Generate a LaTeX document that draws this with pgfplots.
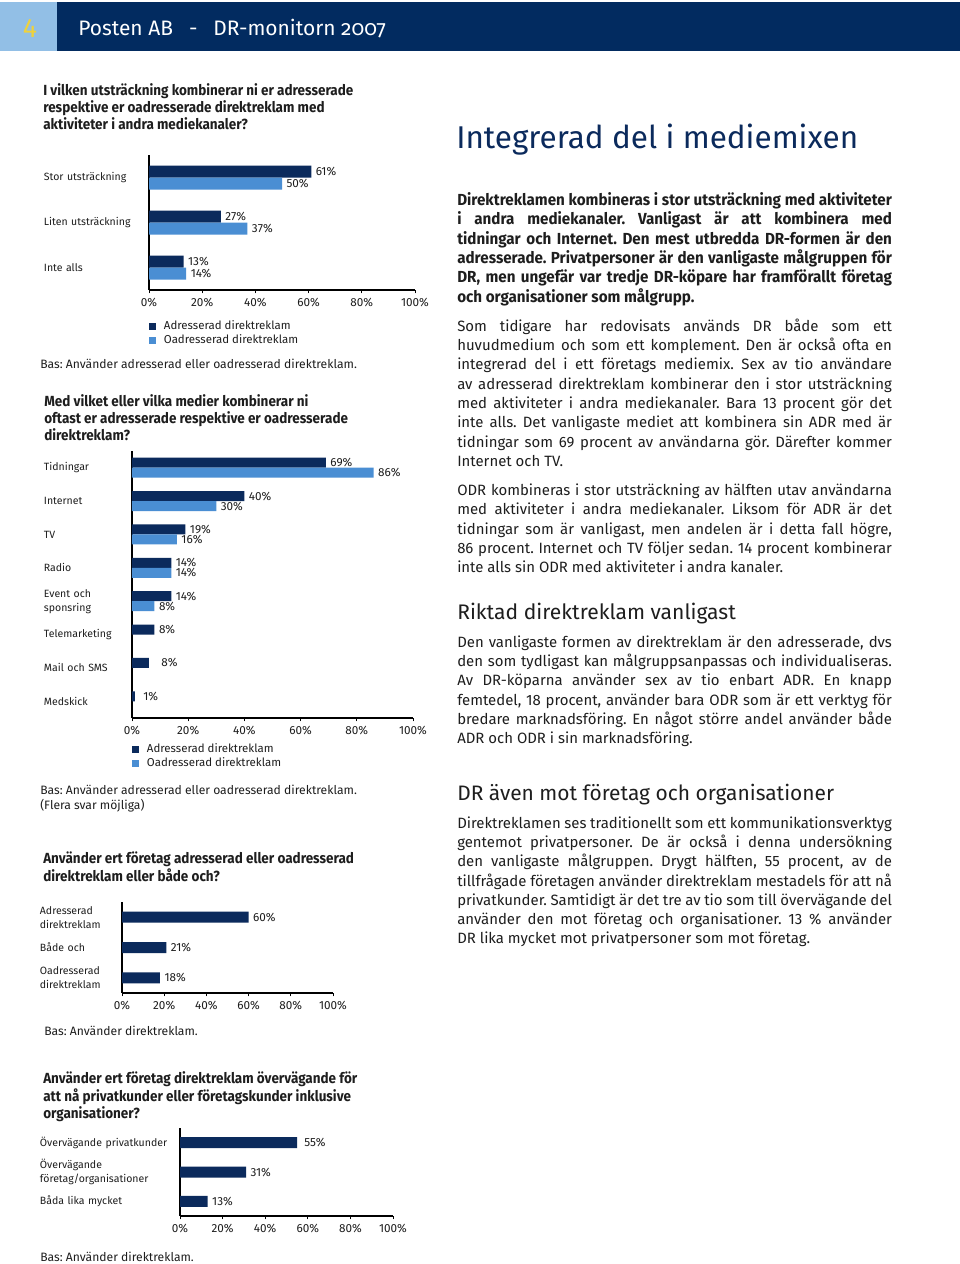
\documentclass[border=0pt]{standalone}
\usepackage{fontspec}
\setmainfont{Fira Sans}
\newfontfamily\cond[FakeStretch=0.92]{Fira Sans}
\newfontfamily\bcond[FakeStretch=0.95]{Fira Sans}
\newfontfamily\hdr[Numbers=OldStyle]{Fira Sans}
\usepackage{pgfplots}
\pgfplotsset{compat=1.18}
\frenchspacing
\definecolor{navy}{HTML}{0B2A5C}
\definecolor{lightbar}{HTML}{4A8ED3}
\definecolor{hdrnavy}{HTML}{022B60}
\definecolor{hdrlight}{HTML}{92BFE6}
\definecolor{yel}{HTML}{EFD23C}
\definecolor{txt}{HTML}{1E1E1E}
\newcommand{\sm}{\fontsize{7.9}{10.5}\selectfont}
\newcommand{\tk}{\fontsize{8.8}{10.5}\selectfont}
\newcommand{\jl}[1]{\makebox[326pt][s]{#1}}
\pgfplotsset{
  dr/.style={
    scale only axis, xbar, clip=false,
    xmin=0, xmax=100,
    axis lines*=left,
    axis line style={black, line width=1pt, -},
    xtick={0,20,...,100},
    xticklabel={\pgfmathprintnumber{\tick}\%},
    /pgf/number format/assume math mode=true,
    tick label style={font=\sm, text=txt},
    xticklabel style={font=\tk},
    major tick length=2.5pt,
    tick align=outside,
    xtick style={black, line width=0.7pt},
    ytick style={draw=none},
    extra y tick labels={},
    extra y tick style={tick style={draw=black, line width=0.8pt}},
    nodes near coords, point meta=explicit symbolic,
    every node near coord/.append style={font=\tk, text=txt, anchor=west, inner sep=3.2pt},
    legend style={draw=none, fill=none, font=\fontsize{8.6}{10}\selectfont, text=txt, cells={anchor=west}, row sep=0pt, inner sep=0pt,
      nodes={inner sep=1.1pt}, /tikz/every odd column/.append style={column sep=4.5pt}},
    legend image code/.code={\fill[##1, draw=none] (0pt,-2.7pt) rectangle (5.4pt,2.7pt);},
  }
}
\begin{document}
\begin{tikzpicture}[x=0.75pt, y=-0.75pt]
\path[use as bounding box, fill=white] (0,0) rectangle (960,1264);
% header
\fill[hdrlight] (0,2) rectangle (57,51);
\fill[hdrnavy] (57,2) rectangle (960,51);
\node[anchor=base, text=yel, font=\fontsize{20}{22}\selectfont, inner sep=0] at (30,37) {4};
\node[anchor=base west, text=white, font=\hdr\fontsize{15.7}{18}\selectfont, inner sep=0] at (78,35) {Posten AB\enspace\ -\ \enspace DR-monitorn 2007};

% left column questions
\begin{scope}[every node/.style={anchor=base west, inner sep=0, text=txt, font=\cond\bfseries\fontsize{11}{13}\selectfont}]
\node at (43,95) {I vilken utsträckning kombinerar ni er adresserade};
\node at (43,112) {respektive er oadresserade direktreklam med};
\node at (43,129) {aktiviteter i andra mediekanaler?};
\node at (44,406) {Med vilket eller vilka medier kombinerar ni};
\node at (44,423) {oftast er adresserade respektive er oadresserade};
\node at (44,440) {direktreklam?};
\node at (43,863) {Använder ert företag adresserad eller oadresserad};
\node at (43,881) {direktreklam eller både och?};
\node at (43,1083) {Använder ert företag direktreklam övervägande för};
\node at (43,1101) {att nå privatkunder eller företagskunder inklusive};
\node at (43,1118) {organisationer?};
\end{scope}
\begin{scope}[every node/.style={anchor=base west, inner sep=0, text=txt, font=\fontsize{9.1}{11}\selectfont}]
\node at (40,368) {Bas: Använder adresserad eller oadresserad direktreklam.};
\node at (40,794) {Bas: Använder adresserad eller oadresserad direktreklam.};
\node at (40,809) {(Flera svar möjliga)};
\node at (44,1035) {Bas: Använder direktreklam.};
\node at (40,1261) {Bas: Använder direktreklam.};
\end{scope}

% Chart 1
\begin{axis}[dr, at={(111.75pt,-217.5pt)}, anchor=south west,
  width=199.5pt, height=101.25pt,
  ymin=-0.5, ymax=2.5,
  ytick={0,1,2}, yticklabels={Inte alls,Liten utsträckning,Stor utsträckning},
  yticklabel style={anchor=west, xshift=-76.5pt, text width=76pt, align=left, inner sep=0pt},
  extra y ticks={-0.5,0.5,1.5,2.5},
  bar width=9pt,
  legend style={at={(0,-0.215)}, anchor=north west},
]
\addplot[fill=navy, draw=none, bar shift=4.5pt] coordinates {(61,2) [61\%] (27,1) [27\%] (13,0) [13\%]};
\addplot[fill=lightbar, draw=none, bar shift=-4.5pt] coordinates {(50,2) [50\%] (37,1) [37\%] (14,0) [14\%]};
\legend{Adresserad direktreklam, Oadresserad direktreklam}
\end{axis}

% Chart 2
\begin{axis}[dr, at={(99pt,-538.5pt)}, anchor=south west,
  width=210.75pt, height=200.25pt,
  ymin=-0.5, ymax=7.5,
  ytick={0,...,7}, yticklabels={Medskick,Mail och SMS,Telemarketing,{Event och\\sponsring},Radio,TV,Internet,Tidningar},
  yticklabel style={anchor=west, xshift=-63.75pt, text width=63pt, align=left, inner sep=0pt},
  extra y ticks={-0.5,0.5,...,7.5},
  bar width=7.5pt,
  legend style={at={(0,-0.09)}, anchor=north west},
]
\addplot[fill=navy, draw=none, bar shift=3.75pt] coordinates {(69,7) [69\%] (40,6) [40\%] (19,5) [19\%] (14,4) [14\%] (14,3) [14\%] (8,2) [8\%] (6,1) [\hspace{6pt}8\%] (1,0) [\hspace{3pt}1\%]};
\addplot[fill=lightbar, draw=none, bar shift=-3.75pt] coordinates {(86,7) [86\%] (30,6) [30\%] (16,5) [16\%] (14,4) [14\%] (8,3) [8\%]};
\legend{Adresserad direktreklam, Oadresserad direktreklam}
\end{axis}

% Chart 3
\begin{axis}[dr, at={(91.5pt,-744.75pt)}, anchor=south west,
  width=158.25pt, height=68.25pt,
  ymin=-0.5, ymax=2.5,
  ytick={0,1,2}, yticklabels={{Oadresserad\\direktreklam},Både och,{Adresserad\\direktreklam}},
  yticklabel style={anchor=west, xshift=-59.25pt, text width=59pt, align=left, inner sep=0pt},
  extra y ticks={-0.5,0.5,1.5,2.5},
  bar width=8.25pt,
]
\addplot[fill=navy, draw=none, bar shift=0pt] coordinates {(60,2) [60\%] (21,1) [21\%] (18,0) [18\%]};
\end{axis}

% Chart 4
\begin{axis}[dr, at={(135pt,-912pt)}, anchor=south west,
  width=159.75pt, height=66pt,
  ymin=-0.5, ymax=2.5,
  ytick={0,1,2}, yticklabels={Båda lika mycket,{Övervägande\\företag/organisationer},Övervägande privatkunder},
  yticklabel style={anchor=west, xshift=-102.75pt, text width=102pt, align=left, inner sep=0pt},
  extra y ticks={-0.5,0.5,1.5,2.5},
  bar width=8.25pt,
]
\addplot[fill=navy, draw=none, bar shift=0pt] coordinates {(55,2) [\hspace{2pt}55\%] (31,1) [31\%] (13,0) [13\%]};
\end{axis}

% right column
\node[anchor=base west, inner sep=0, text=navy, font=\fontsize{23.6}{28}\selectfont] at (456,148) {Integrerad del i mediemixen};
\begin{scope}[every node/.style={anchor=base west, inner sep=0, text=txt}]
\begin{scope}[every node/.append style={font=\bcond\bfseries\fontsize{12}{14}\selectfont}]
\node at (457,205) {\jl{Direktreklamen kombineras i stor utsträckning med aktiviteter}};
\node at (457,224) {\jl{i andra mediekanaler. Vanligast är att kombinera med}};
\node at (457,244) {\jl{tidningar och Internet. Den mest utbredda DR-formen är den}};
\node at (457,263) {\jl{adresserade. Privatpersoner är den vanligaste målgruppen för}};
\node at (457,282) {\jl{DR, men ungefär var tredje DR-köpare har framförallt företag}};
\node at (457,302) {och organisationer som målgrupp.};
\end{scope}
\begin{scope}[every node/.append style={font=\fontsize{11.2}{14}\selectfont}]
\node at (457,331) {\jl{Som tidigare har redovisats används DR både som ett}};
\node at (457,350) {\jl{huvudmedium och som ett komplement. Den är också ofta en}};
\node at (457,369) {\jl{integrerad del i ett företags mediemix. Sex av tio användare}};
\node at (457,389) {\jl{av adresserad direktreklam kombinerar den i stor utsträckning}};
\node at (457,408) {\jl{med aktiviteter i andra mediekanaler. Bara 13 procent gör det}};
\node at (457,427) {\jl{inte alls. Det vanligaste mediet att kombinera sin ADR med är}};
\node at (457,447) {\jl{tidningar som 69 procent av användarna gör. Därefter kommer}};
\node at (457,466) {Internet och TV.};
\node at (457,495) {\jl{ODR kombineras i stor utsträckning av hälften utav användarna}};
\node at (457,514) {\jl{med aktiviteter i andra mediekanaler. Liksom för ADR är det}};
\node at (457,534) {\jl{tidningar som är vanligast, men andelen är i detta fall högre,}};
\node at (457,553) {\jl{86 procent. Internet och TV följer sedan. 14 procent kombinerar}};
\node at (457,572) {inte alls sin ODR med aktiviteter i andra kanaler.};
\node at (457,647) {\jl{Den vanligaste formen av direktreklam är den adresserade, dvs}};
\node at (457,666) {\jl{den som tydligast kan målgruppsanpassas och individualiseras.}};
\node at (457,685) {\jl{Av DR-köparna använder sex av tio enbart ADR. En knapp}};
\node at (457,705) {\jl{femtedel, 18 procent, använder bara ODR som är ett verktyg för}};
\node at (457,724) {\jl{bredare marknadsföring. En något större andel använder både}};
\node at (457,743) {ADR och ODR i sin marknadsföring.};
\node at (457,828) {\jl{Direktreklamen ses traditionellt som ett kommunikationsverktyg}};
\node at (457,847) {\jl{gentemot privatpersoner. De är också i denna undersökning}};
\node at (457,866) {\jl{den vanligaste målgruppen. Drygt hälften, 55 procent, av de}};
\node at (457,886) {\jl{tillfrågade företagen använder direktreklam mestadels för att nå}};
\node at (457,905) {\jl{privatkunder. Samtidigt är det tre av tio som till övervägande del}};
\node at (457,924) {\jl{använder den mot företag och organisationer. 13 \% använder}};
\node at (457,943) {DR lika mycket mot privatpersoner som mot företag.};
\end{scope}
\node[font=\fontsize{15.8}{18}\selectfont] at (457,619) {Riktad direktreklam vanligast};
\node[font=\fontsize{15.7}{18}\selectfont] at (457,800) {DR även mot företag och organisationer};
\end{scope}
\end{tikzpicture}
\end{document}
